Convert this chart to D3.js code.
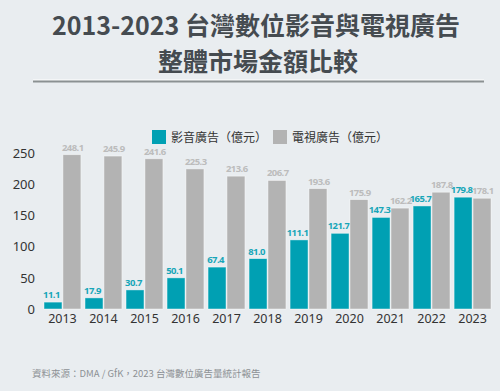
<!DOCTYPE html>
<html>
<head>
<meta charset="utf-8">
<script src="https://cdn.jsdelivr.net/npm/d3@7"></script>
<style>
  body { margin: 0; background: #e9edf0; }
  svg { display: block; font-family: "Noto Sans CJK TC", "Noto Sans", sans-serif; }
</style>
</head>
<body>
<svg id="chart"></svg>
<script>
// 資料
var years = ["2013","2014","2015","2016","2017","2018","2019","2020","2021","2022","2023"];
var digital = [11.1, 17.9, 30.7, 50.1, 67.4, 81.0, 111.1, 121.7, 147.3, 165.7, 179.8];
var tv = [248.1, 245.9, 241.6, 225.3, 213.6, 206.7, 193.6, 175.9, 162.2, 187.8, 178.1];
var seriesNames = ["影音廣告（億元）", "電視廣告（億元）"];
var yTicks = [0, 50, 100, 150, 200, 250];

var colors = ["#00a0b3", "#b3b3b3"];
var labelColors = ["#17a6b8", "#bcbcbc"];
var labelShift = [-1.5, 0.8];

var W = 500, H = 391;
var svg = d3.select("#chart").attr("width", W).attr("height", H);

// 標題
var title = svg.append("g")
  .attr("fill", "#454b50")
  .attr("font-weight", "bold")
  .attr("font-size", 25)
  .attr("text-anchor", "middle");
title.append("text").attr("x", 256).attr("y", 35).text("2013-2023 台灣數位影音與電視廣告");
title.append("text").attr("x", 258).attr("y", 71).text("整體市場金額比較");

// 分隔線
svg.append("line").attr("x1", 33).attr("x2", 484).attr("y1", 80).attr("y2", 80)
  .attr("stroke", "#ffffff").attr("stroke-width", 1);
svg.append("line").attr("x1", 33).attr("x2", 484).attr("y1", 81.5).attr("y2", 81.5)
  .attr("stroke", "#8b9192").attr("stroke-width", 2);

// 比例尺
var x = d3.scaleBand().domain(years).range([44, 491]).paddingInner(0.1).paddingOuter(0);
var xSub = d3.scaleBand().domain([0, 1]).range([0, x.bandwidth()]).paddingInner(0.05);
var y = d3.scaleLinear().domain([0, 250]).range([309, 153.5]);

// y軸
var yAxis = d3.axisLeft(y).tickValues(yTicks).tickSize(0).tickPadding(0);
svg.append("g")
  .attr("transform", "translate(35,0)")
  .call(yAxis)
  .call(function(g) { g.select(".domain").remove(); })
  .selectAll("text")
  .attr("font-size", 13)
  .attr("fill", "#333")
  .attr("font-family", "'Noto Sans', sans-serif");

// x軸
var xAxis = d3.axisBottom(x).tickSize(0).tickPadding(5);
svg.append("g")
  .attr("transform", "translate(0,309)")
  .call(xAxis)
  .call(function(g) { g.select(".domain").remove(); })
  .selectAll("text")
  .attr("font-size", 12.5)
  .attr("fill", "#333")
  .attr("font-family", "'Noto Sans', sans-serif");

// 長條
var series = [digital, tv];
series.forEach(function(vals, si) {
  var g = svg.append("g");
  g.selectAll("rect").data(vals).join("rect")
    .attr("x", function(d, i) { return x(years[i]) + xSub(si); })
    .attr("y", function(d) { return y(d); })
    .attr("width", xSub.bandwidth())
    .attr("height", function(d) { return y(0) - y(d); })
    .attr("fill", colors[si])
    .attr("stroke", "rgba(255,255,255,0.55)")
    .attr("stroke-width", 0.8);
  g.selectAll("text").data(vals).join("text")
    .attr("x", function(d, i) { return x(years[i]) + xSub(si) + xSub.bandwidth() / 2 + labelShift[si]; })
    .attr("y", function(d) { return y(d) - 4; })
    .attr("text-anchor", "middle")
    .attr("font-size", 9.5)
    .attr("letter-spacing", -0.55)
    .attr("font-weight", "bold")
    .attr("font-family", "'Noto Sans', sans-serif")
    .attr("fill", labelColors[si])
    .text(function(d) { return d.toFixed(1); });
});

// 圖例
var legendX = [152, 273];
seriesNames.forEach(function(name, i) {
  svg.append("rect").attr("x", legendX[i]).attr("y", 130).attr("width", 14).attr("height", 14)
    .attr("fill", colors[i]);
  svg.append("text").attr("x", legendX[i] + 19).attr("y", 141.5)
    .attr("font-size", 12).attr("fill", "#333").text(name);
});

// 資料來源
svg.append("text").attr("x", 32).attr("y", 377)
  .attr("font-size", 9.5).attr("fill", "#8d9195")
  .text("資料來源：DMA / GfK，2023 台灣數位廣告量統計報告");
</script>
</body>
</html>
